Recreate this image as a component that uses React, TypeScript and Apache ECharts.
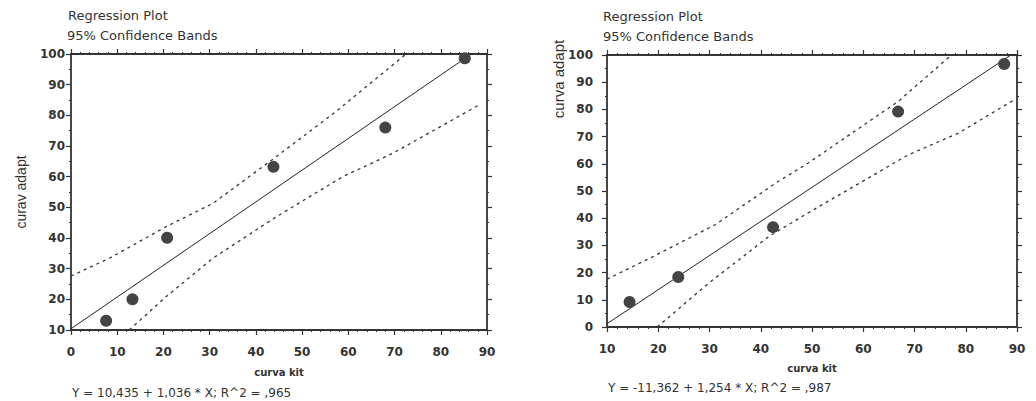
import React, { useEffect, useRef } from "react";
import * as echarts from "echarts";

// ---- data ----
const leftX = [7.6, 13.3, 20.8, 43.8, 68.0, 85.2];
const leftY = [13.0, 20.0, 40.1, 63.2, 76.0, 98.6];
const leftFit = [[0, 10.4], [86.6, 100]];
const leftUpper = [[0, 27.6], [8.3, 33.4], [20.6, 43.7], [30.7, 51.3], [44.4, 66.5], [57.3, 81.2], [72.5, 100]];
const leftLower = [[12.6, 10], [20.6, 20.9], [30.7, 33.4], [44.4, 46.9], [58.8, 60], [69.6, 67.6], [88.3, 83.4]];

const rightX = [14.4, 23.9, 42.4, 66.8, 87.5];
const rightY = [9.2, 18.4, 36.7, 79.2, 96.7];
const rightFit = [[10, 1.2], [88.8, 100]];
const rightUpper = [[10, 17.6], [18.8, 25.7], [31.1, 37.6], [42.9, 52.9], [49.2, 60.2], [66.8, 82.9], [77.2, 100]];
const rightLower = [[19.8, 0], [29.9, 16.2], [41.6, 33.3], [49.2, 41.9], [68.8, 63.3], [78.5, 71.2], [89.6, 83.7]];

const leftXTicks = [0, 10, 20, 30, 40, 50, 60, 70, 80, 90];
const leftYTicks = [10, 20, 30, 40, 50, 60, 70, 80, 90, 100];
const rightXTicks = [10, 20, 30, 40, 50, 60, 70, 80, 90];
const rightYTicks = [0, 10, 20, 30, 40, 50, 60, 70, 80, 90, 100];

const titleLine1 = "Regression Plot";
const titleLine2 = "95% Confidence Bands";
const leftEquation = "Y = 10,435 + 1,036 * X; R^2 = ,965";
const rightEquation = "Y = -11,362 + 1,254 * X; R^2 = ,987";
const xName = "curva kit";
const leftYName = "curav adapt";
const rightYName = "curva adapt";

const AX = "#333";
const FONT = "DejaVu Sans";

function range(t: number[]) {
  return { min: t[0], max: t[t.length - 1], interval: t[1] - t[0] };
}

function axisBase(ticks: number[], gridIndex: number, position: string, showLabel: boolean, minorSplit: number, margin: number) {
  return {
    type: "value",
    gridIndex,
    position,
    ...range(ticks),
    axisLine: { show: true, onZero: false, lineStyle: { color: AX, width: 1.8 } },
    axisTick: { show: true, length: 5, lineStyle: { color: AX, width: 1.2 } },
    minorTick: { show: true, splitNumber: minorSplit, length: 2, lineStyle: { color: AX, width: 1 } },
    splitLine: { show: false },
    axisLabel: {
      show: showLabel,
      color: AX,
      fontFamily: FONT,
      fontSize: 12,
      fontWeight: "bold",
      margin,
    },
  };
}

export default function App() {
  const ref = useRef<HTMLDivElement>(null);
  useEffect(() => {
    if (!ref.current) return;
    const chart = echarts.init(ref.current, undefined, { renderer: "svg" });

    const scatter = (x: number[], y: number[], xi: number, yi: number) => ({
      type: "scatter",
      xAxisIndex: xi,
      yAxisIndex: yi,
      data: x.map((v, i) => [v, y[i]]),
      symbolSize: 12,
      itemStyle: { color: "#444", opacity: 1 },
      z: 5,
    });
    const line = (d: number[][], xi: number, yi: number, dashed: boolean) => ({
      type: "line",
      xAxisIndex: xi,
      yAxisIndex: yi,
      data: d,
      showSymbol: false,
      symbol: "none",
      clip: true,
      lineStyle: dashed
        ? { color: "#333", width: 1.3, type: [3, 4] }
        : { color: "#222", width: 1 },
      z: 3,
    });

    const xAxisLeft = {
      ...axisBase(leftXTicks, 0, "bottom", true, 5, 16),
      name: xName,
      nameLocation: "middle",
      nameGap: 37,
      nameTextStyle: { color: AX, fontFamily: FONT, fontSize: 10, fontWeight: "bold" },
    };
    const xAxisRight = {
      ...axisBase(rightXTicks, 1, "bottom", true, 5, 16),
      name: xName,
      nameLocation: "middle",
      nameGap: 36,
      nameTextStyle: { color: AX, fontFamily: FONT, fontSize: 10, fontWeight: "bold" },
    };
    const yAxisLeft = {
      ...axisBase(leftYTicks, 0, "left", true, 2, 6),
      name: leftYName,
      nameLocation: "middle",
      nameGap: 43,
      nameTextStyle: { color: AX, fontFamily: "Liberation Sans", fontSize: 14 },
    };
    const yAxisRight = axisBase(rightYTicks, 1, "left", true, 2, 14);

    const option = {
      animation: false,
      backgroundColor: "#fff",
      grid: [
        { left: 71, top: 54, width: 416, height: 276, containLabel: false },
        { left: 607, top: 55, width: 410, height: 272, containLabel: false },
      ],
      xAxis: [
        xAxisLeft,
        xAxisRight,
        axisBase(leftXTicks, 0, "top", false, 5, 6),
        axisBase(rightXTicks, 1, "top", false, 5, 6),
      ],
      yAxis: [
        yAxisLeft,
        yAxisRight,
        axisBase(leftYTicks, 0, "right", false, 2, 6),
        axisBase(rightYTicks, 1, "right", false, 2, 6),
      ],
      series: [
        line(leftUpper, 0, 0, true),
        line(leftLower, 0, 0, true),
        line(leftFit, 0, 0, false),
        scatter(leftX, leftY, 0, 0),
        line(rightUpper, 1, 1, true),
        line(rightLower, 1, 1, true),
        line(rightFit, 1, 1, false),
        scatter(rightX, rightY, 1, 1),
      ],
      graphic: [
        { type: "text", left: 68, top: 9, style: { text: titleLine1, fill: AX, font: `13px '${FONT}'` } },
        { type: "text", left: 67, top: 29, style: { text: titleLine2, fill: AX, font: `13px '${FONT}'` } },
        { type: "text", left: 603, top: 10, style: { text: titleLine1, fill: AX, font: `13px '${FONT}'` } },
        { type: "text", left: 603, top: 30, style: { text: titleLine2, fill: AX, font: `13px '${FONT}'` } },
        { type: "text", left: 72, top: 387, style: { text: leftEquation, fill: AX, font: `12px '${FONT}'` } },
        { type: "text", left: 608, top: 382, style: { text: rightEquation, fill: AX, font: `12px '${FONT}'` } },
        {
          type: "text",
          x: 558,
          y: 79,
          rotation: Math.PI / 2,
          style: {
            text: rightYName,
            fill: AX,
            font: "15px 'Liberation Sans'",
            align: "center",
            verticalAlign: "middle",
          },
        },
      ],
    };
    chart.setOption(option as any);
    return () => chart.dispose();
  }, []);
  return (
    <div
      ref={ref}
      style={{ position: "absolute", left: 0, top: 0, width: 1036, height: 401 }}
    />
  );
}
